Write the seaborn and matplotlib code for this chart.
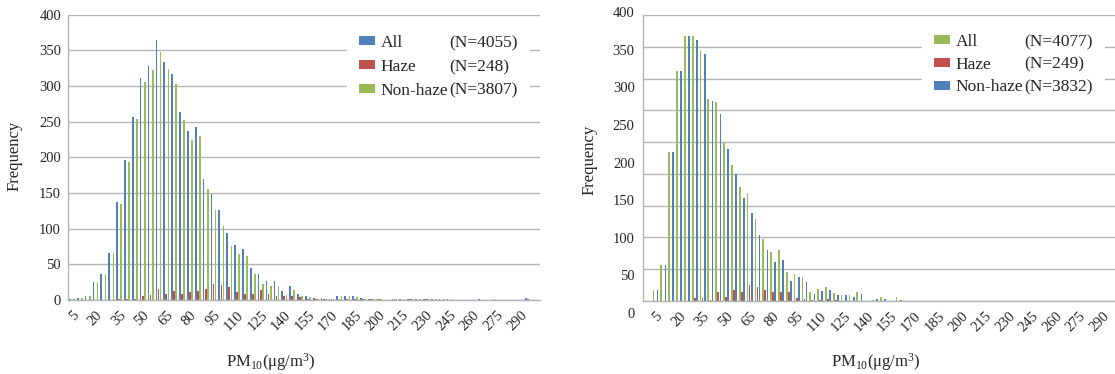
###### Libraries

import matplotlib
matplotlib.use("Agg")
import numpy as np
import pandas as pd
import matplotlib.pyplot as plt
import seaborn as sns
from matplotlib.patches import Patch

###### Data (5 ug/m3 bins)

bins = list(range(5, 305, 5))

left_all = [1, 3, 5, 25, 37, 66, 137, 196, 256, 311,
            328, 364, 334, 316, 263, 237, 243, 170, 148, 126,
            94, 77, 71, 45, 36, 27, 27, 12, 19, 9,
            5, 3, 3, 2, 6, 6, 5, 3, 2, 2,
            0, 2, 2, 1, 2, 2, 2, 1, 1, 0,
            0, 0, 2, 0, 2, 0, 0, 0, 3, 0]
left_haze = [0, 0, 0, 0, 0, 0, 2, 2, 2, 5,
             7, 15, 8, 13, 9, 11, 13, 15, 22, 21,
             18, 11, 8, 8, 14, 9, 6, 5, 6, 4,
             2, 1, 1, 1, 1, 1, 1, 1, 1, 2,
             0, 1, 0, 1, 0, 1, 0, 0, 0, 0,
             0, 0, 0, 0, 0, 0, 0, 0, 2, 0]
left_nonhaze = [1, 3, 5, 25, 37, 66, 134, 194, 254, 306,
                322, 347, 324, 302, 252, 224, 230, 155, 126, 103,
                75, 65, 61, 36, 22, 19, 19, 7, 14, 6,
                4, 2, 2, 2, 5, 5, 4, 2, 2, 1,
                0, 2, 2, 1, 2, 2, 2, 1, 1, 0,
                0, 0, 0, 0, 0, 0, 0, 0, 0, 0]

right_all = [15, 50, 209, 322, 371, 371, 351, 283, 278, 223,
             190, 160, 151, 114, 87, 68, 72, 41, 38, 33,
             12, 17, 19, 11, 9, 9, 12, 0, 2, 5,
             0, 6, 0, 0, 0, 0, 0, 0, 0, 0,
             0, 0, 0, 0, 0, 0, 0, 0, 0, 0,
             0, 0, 0, 0, 0, 0, 0, 0, 0, 0]
right_haze = [0, 0, 0, 0, 0, 4, 4, 2, 13, 5,
              15, 13, 22, 20, 15, 12, 13, 12, 4, 3,
              2, 2, 3, 2, 0, 0, 0, 0, 0, 0,
              0, 0, 0, 0, 0, 0, 0, 0, 0, 0,
              0, 0, 0, 0, 0, 0, 0, 0, 0, 0,
              0, 0, 0, 0, 0, 0, 0, 0, 0, 0]
right_nonhaze = [15, 50, 209, 322, 371, 365, 346, 280, 262, 213,
                 177, 144, 123, 93, 72, 55, 57, 28, 33, 27,
                 10, 14, 15, 8, 9, 6, 10, 0, 3, 3,
                 0, 2, 0, 0, 0, 0, 0, 0, 0, 0,
                 0, 0, 0, 0, 0, 0, 0, 0, 0, 0,
                 0, 0, 0, 0, 0, 0, 0, 0, 0, 0]

groups = ["All", "Haze", "Non-haze"]
left_n = ["(N=4055)", "(N=248)", "(N=3807)"]
right_n = ["(N=4077)", "(N=249)", "(N=3832)"]
ytick_vals = list(range(0, 401, 50))

blue = "#4F81BD"
red = "#C0504D"
green = "#9BBB59"
left_colors = {"All": blue, "Haze": red, "Non-haze": green}
right_colors = {"All": green, "Haze": red, "Non-haze": blue}

###### Style

sns.set_style("white")
plt.rcParams["font.family"] = ["Liberation Serif", "DejaVu Serif"]
plt.rcParams["mathtext.fontset"] = "custom"
plt.rcParams["mathtext.rm"] = "Liberation Serif"
plt.rcParams["mathtext.it"] = "Liberation Serif:italic"

grid_c = "#b4b4b4"


def make_df(all_v, haze_v, non_v):
    return pd.DataFrame({
        "bin": [str(b) for b in bins] * 3,
        "group": ["All"] * len(bins) + ["Haze"] * len(bins) + ["Non-haze"] * len(bins),
        "count": all_v + haze_v + non_v,
    })


def draw(ax, df, colors, n_labels, spacing):
    sns.barplot(data=df, x="bin", y="count", hue="group", hue_order=groups,
                palette=colors, saturation=1, width=0.8, gap=0.18,
                linewidth=0, errorbar=None, legend=False, ax=ax)
    ax.set_axisbelow(True)
    ax.set_xlabel("")
    ax.set_ylabel("")
    ax.set_xticks(range(0, 58, 3))
    ax.set_xticklabels(bins[0:58:3], rotation=45, ha="right", va="top",
                       rotation_mode="anchor", fontsize=10.5)
    ax.tick_params(axis="both", length=0, labelsize=10.5)
    ax.tick_params(axis="x", pad=6)
    ax.tick_params(axis="y", pad=5)
    for s in ["top", "right"]:
        ax.spines[s].set_visible(False)
    for s in ["left", "bottom"]:
        ax.spines[s].set_color(grid_c)
        ax.spines[s].set_linewidth(1.0)
    handles = [Patch(facecolor=colors[g], edgecolor="none") for g in groups]
    handles += [Patch(facecolor="none", edgecolor="none") for g in groups]
    leg = ax.legend(handles, groups + n_labels, ncol=2, fontsize=12.5,
                    handlelength=0.9, handleheight=0.42, handletextpad=0.35,
                    columnspacing=-1.22, labelspacing=spacing, borderpad=0.7,
                    borderaxespad=0, frameon=True, fancybox=False, framealpha=1,
                    facecolor="white", edgecolor="none", loc="upper left")
    return leg


fig = plt.figure(figsize=(11.15, 3.74), dpi=100)
W, H = 1115, 374

###### Left panel

ax1 = fig.add_axes([68 / W, 1 - 300 / H, 472 / W, 285.5 / H])
leg1 = draw(ax1, make_df(left_all, left_haze, left_nonhaze), left_colors, left_n, 0.45)
leg1.set_bbox_to_anchor((347 / W, 1 - 23 / H), transform=fig.transFigure)
ax1.set_xlim(-0.5, 59.5)
ax1.set_ylim(0, 400)
ax1.set_yticks(ytick_vals)
ax1.yaxis.grid(True, color=grid_c, linewidth=1.0)

###### Right panel (gridlines and tick labels are not aligned in the original)

ax2 = fig.add_axes([643 / W, 1 - 301 / H, 472 / W, 286 / H])
leg2 = draw(ax2, make_df(right_all, right_haze, right_nonhaze), right_colors, right_n, 0.38)
leg2.set_bbox_to_anchor((922 / W, 1 - 22 / H), transform=fig.transFigure)
ax2.set_xlim(-1.6, 58.6)
ax2.set_ylim(0, 400)
ax2.set_yticks(np.linspace(0, 400, 10))
ax2.set_yticklabels([])
ax2.yaxis.grid(True, color=grid_c, linewidth=1.0)

# the printed 0-400 scale of the right panel sits on its own, taller, axis
lab2 = fig.add_axes([643 / W, 1 - 313 / H, 0.001, 301 / H])
lab2.set_ylim(0, 400)
lab2.set_yticks(ytick_vals)
lab2.set_xticks([])
lab2.tick_params(axis="y", length=0, labelsize=10.5, pad=6)
lab2.patch.set_visible(False)
for s in lab2.spines.values():
    s.set_visible(False)

###### Axis titles

xlab = "PM$_{10}$(\u03bcg/m$^{3}$)"
fig.text(15 / W, 1 - 156 / H, "Frequency", rotation=90, ha="center", va="center", fontsize=12)
fig.text(590 / W, 1 - 160 / H, "Frequency", rotation=90, ha="center", va="center", fontsize=12)
fig.text(271 / W, 1 - 362 / H, xlab, ha="center", va="center", fontsize=12)
fig.text(876 / W, 1 - 362 / H, xlab, ha="center", va="center", fontsize=12)

fig.savefig("out.png", dpi=100)
